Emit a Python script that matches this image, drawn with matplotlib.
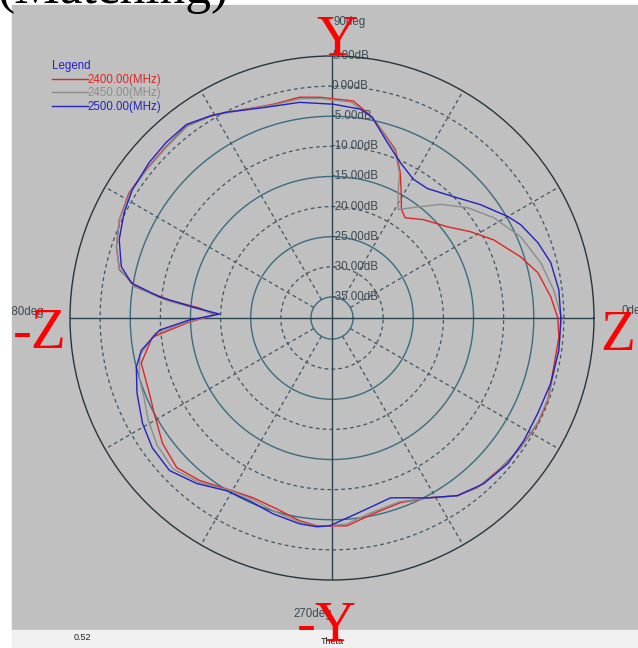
import numpy as np
import matplotlib.pyplot as plt
from matplotlib.patches import Rectangle

# Radiation pattern, angle in deg, gain in dB
red_theta = [0, 5.5, 12.4, 18.0, 25.8, 31.9, 38.4, 47.1, 53.9, 57.4, 61.7, 64.9, 69.4, 74.6,
             78.7, 81.5, 84.4, 93.1, 98.3, 105.5, 114.0, 120.5, 127.2, 134.0, 141.3, 148.3,
             155.2, 161.7, 167.2, 171.0, 173.7, 175.7, 178.5, 181.6, 186.1, 193.3, 202.4,
             208.2, 216.5, 223.9, 230.8, 240.1, 246.2, 253.9, 261.0, 265.9, 274.1, 281.9,
             290.3, 297.9, 305.2, 310.6, 318.2, 325.5, 332.9, 339.1, 347.5, 355.2]
red_db = [-1.0, -2.0, -3.5, -5.6, -8.7, -11.4, -14.1, -16.2, -17.9, -17.1, -14.3, -11.8, -8.6,
          -6.5, -4.5, -3.45, -2.3, -1.8, -1.45, -1.7, -0.75, 0.6, 1.5, 1.1, 1.0, 1.1, 0.4, -0.8,
          -2.3, -5.6, -11.3, -16.4, -19.0, -14.8, -8.5, -5.95, -5.7, -5.0, -3.5, -2.7, -3.7,
          -5.4, -5.9, -5.5, -4.4, -3.9, -3.9, -5.3, -5.8, -4.7, -2.4, -1.4, -1.0, -0.5, -0.1,
          -0.15, -0.8, -0.7]

gray_theta = [0, 7.2, 14.8, 23.3, 31.8, 39.2, 46.3, 53.6, 58.6, 62.7, 65, 69.4, 74.6, 78.7, 82,
              85, 93, 98, 105.5, 114, 120.5, 127, 134, 141, 148, 155, 161.7, 167, 171, 174, 176,
              178.3, 181.3, 185, 191, 197, 203, 209, 216, 223.5, 231, 239, 246, 253.5, 261,
              266, 274, 281, 290, 297.9, 305.2, 311, 318, 325, 333, 340, 347, 354]
gray_db = [-0.4, -1.4, -2.65, -4.4, -6.9, -9.5, -12.4, -15.7, -17.4, -14.5, -12.0, -8.8, -6.6,
           -4.6, -3.5, -2.5, -2.0, -1.7, -1.8, -0.8, 0.5, 1.4, 1.0, 0.9, 1.0, 0.4, -0.8, -2.3,
           -5.3, -11.0, -16.0, -19.3, -14.8, -9.0, -6.0, -5.0, -4.6, -3.6, -2.6, -2.1, -3.4,
           -5.2, -5.6, -5.0, -4.2, -3.8, -4.2, -5.5, -6.0, -4.7, -2.4, -1.4, -0.9, -0.5, -0.2,
           -0.2, -0.6, -0.5]

blue_theta = [0, 7.1, 14.2, 20.1, 26.3, 30.0, 37.4, 45.0, 53.6, 59.6, 66.3, 72.6, 78.7, 82.3,
              89.7, 98.5, 109.0, 117.1, 121.3, 126.9, 133.3, 139.6, 147.3, 153.1, 159.8, 166.3,
              170.1, 173.0, 175.5, 178.0, 180.8, 184.0, 189.6, 194.1, 201.1, 209.1, 215.8,
              223.2, 230.7, 238.6, 245.7, 253.2, 261.1, 265.9, 269.4, 279.2, 288.0, 292.7,
              297.9, 305.2, 312.5, 320.4, 327.4, 335.1, 343.4, 351.9]
blue_db = [-0.5, -0.55, -1.03, -2.1, -3.55, -4.8, -7.5, -10.0, -11.8, -11.8, -10.3, -7.9, -4.5,
           -3.5, -3.0, -2.3, -1.65, -0.1, 0.7, 1.7, 1.6, 1.35, 0.9, 0.2, -0.85, -2.5, -4.7,
           -9.6, -15.3, -19.8, -14.8, -9.8, -6.4, -5.0, -3.8, -2.5, -1.7, -1.5, -3.0, -4.9,
           -5.2, -4.55, -3.9, -3.75, -4.0, -6.1, -7.1, -6.15, -4.7, -2.4, -1.2, -0.6, -0.7,
           -0.85, -0.6, -0.45]

labels = ['2400.00(MHz)', '2450.00(MHz)', '2500.00(MHz)']
colors = ['#e02424', '#8c8c8c', '#2222c0']

rings = [5, 0, -5, -10, -15, -20, -25, -30, -35]
r_min = -38.5

fig = plt.figure(figsize=(6.38, 6.48), dpi=100)

# background panel (pixel coordinates)
bg = fig.add_axes([0, 0, 1, 1])
bg.set_xlim(0, 638)
bg.set_ylim(648, 0)
bg.axis('off')
panel = Rectangle((12, 5), 626, 625, color='#c0c0c0', zorder=0)
bg.add_patch(panel)
bg.add_patch(Rectangle((12, 630), 626, 18, color='#f0f0f0', zorder=0))

small = dict(family='Liberation Sans', fontsize=8.3, color='#3c4852')
for txt, x, y, ha in [('90deg', 333, 22, 'left'), ('0deg', 622, 311, 'left'),
                      ('180deg', 44, 312, 'right'), ('270deg', 293, 614, 'left')]:
    t = bg.text(x, y, txt, ha=ha, va='center', **small)
    t.set_clip_on(True)
    t.set_clip_path(panel)
bg.text(332, 641, 'Theta', ha='center', va='center', family='Liberation Sans',
        fontsize=6.5, color='#202020')
bg.text(82, 638, '0.52', ha='center', va='center', family='Liberation Sans',
        fontsize=6.5, color='#202020')

# polar chart
ax = fig.add_axes([70 / 638, 68 / 648, 524 / 638, 524 / 648], projection='polar')
ax.set_facecolor('none')
ax.set_ylim(r_min, 5)
ax.set_xticks([])
ax.set_yticks([])
ax.grid(False)
ax.spines['polar'].set_color('#26363e')
ax.spines['polar'].set_linewidth(1.0)

full = np.linspace(0, 2 * np.pi, 721)
for r in rings[1:]:
    if r % 10 == 0:
        ax.plot(full, np.full_like(full, r), color='#3e5666', lw=0.9,
                linestyle=(0, (3, 2.5)), zorder=1)
    else:
        ax.plot(full, np.full_like(full, r), color='#3b6c80', lw=1.0, zorder=1)

for a in range(30, 360, 30):
    if a % 90 == 0:
        continue
    ax.plot([np.radians(a)] * 2, [-35, 5], color='#3e5666', lw=0.9,
            linestyle=(0, (3, 2.5)), zorder=1)
for a in [0, 90, 180, 270]:
    ax.plot([np.radians(a)] * 2, [r_min, 5], color='#2c4450', lw=1.0, zorder=1)

for r in rings:
    ax.text(np.pi / 2, r, f'{r:.2f}dB', ha='left', va='center', zorder=2, **small)

for th, db, lab, c in [(red_theta, red_db, labels[0], colors[0]),
                       (gray_theta, gray_db, labels[1], colors[1]),
                       (blue_theta, blue_db, labels[2], colors[2])]:
    th = np.radians(np.r_[th, 360])
    db = np.r_[db, db[0]]
    ax.plot(th, db, color=c, lw=1.0, label=lab, zorder=3)

leg = ax.legend(loc='upper left', bbox_to_anchor=(52 / 638, 1 - 60 / 648),
                bbox_transform=fig.transFigure, frameon=False, title='Legend',
                alignment='left', labelcolor='linecolor', handlelength=3.1,
                handletextpad=0.0, labelspacing=0.14, borderpad=0, borderaxespad=0,
                prop={'family': 'Liberation Sans', 'size': 8.3},
                title_fontproperties={'family': 'Liberation Sans', 'size': 8.3})
leg.get_title().set_color('#2222c0')

# red axis markers
big = dict(family='Liberation Serif', fontsize=41, color='red', va='baseline')
fig.text(337 / 638, 1 - 55 / 648, 'Y', ha='center', **big)
fig.text(13 / 638, 1 - 348 / 648, '-Z', ha='left', **big)
fig.text(618 / 638, 1 - 350 / 648, 'Z', ha='center', **big)
fig.text(297 / 638, 1 - 641 / 648, '-Y', ha='left', **big)
fig.text(-2 / 638, 1 - 3 / 648, '(Matching)', ha='left', va='baseline',
         family='Liberation Serif', fontsize=37, color='black')

plt.savefig('out.png', dpi=100)
